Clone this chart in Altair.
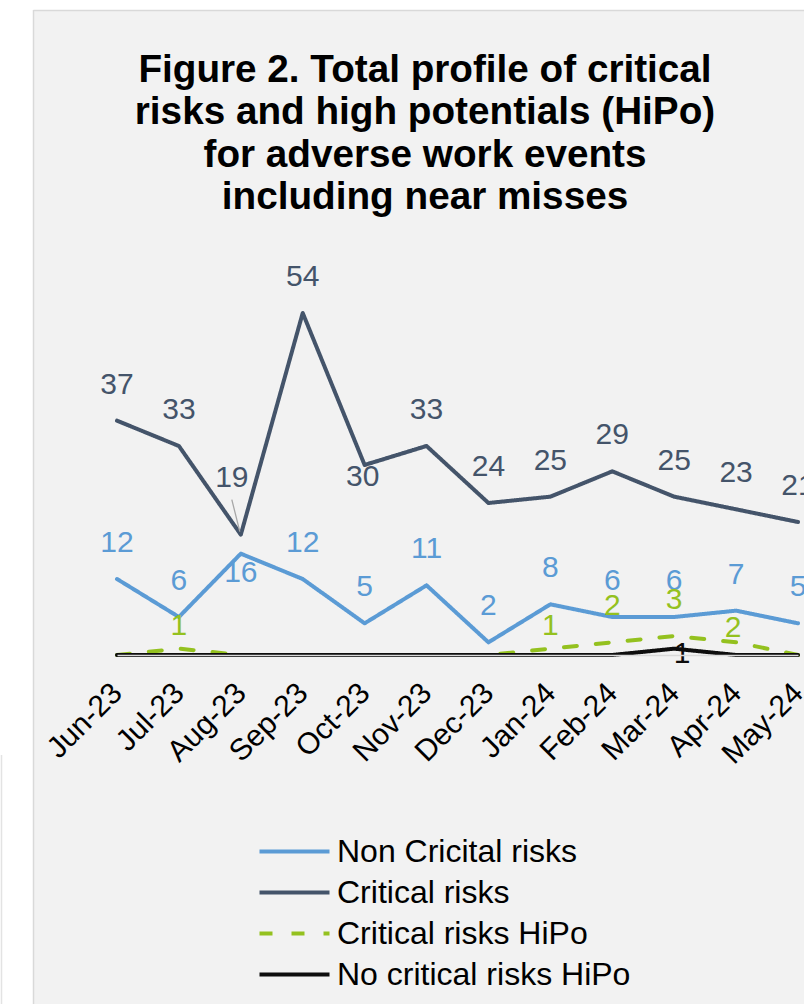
import altair as alt
import pandas as pd

# ---------------- data ----------------
months = ["Jun-23", "Jul-23", "Aug-23", "Sep-23", "Oct-23", "Nov-23",
          "Dec-23", "Jan-24", "Feb-24", "Mar-24", "Apr-24", "May-24"]
non_critical = [12, 6, 16, 12, 5, 11, 2, 8, 6, 6, 7, 5]
critical = [37, 33, 19, 54, 30, 33, 24, 25, 29, 25, 23, 21]
critical_hipo = [0, 1, 0, 0, 0, 0, 0, 1, 2, 3, 2, 0]
no_critical_hipo = [0, 0, 0, 0, 0, 0, 0, 0, 0, 1, 0, 0]

series_names = ["Non Cricital risks", "Critical risks",
                "Critical risks HiPo", "No critical risks HiPo"]
series_values = [non_critical, critical, critical_hipo, no_critical_hipo]

title_lines = ["Figure 2. Total profile of critical",
               "risks and high potentials (HiPo)",
               "for adverse work events",
               "including near misses"]

# ---------------- styles ----------------
colors = ["#5b9bd5", "#44546a", "#94c11f", "#0d0d0d"]
dashes = [[1, 0], [1, 0], [13, 19], [1, 0]]
caps = ["round", "round", "round", "round"]

DEFAULT_OFFSET = (0, -36)
label_offsets = {
    ("Critical risks", "Aug-23"): (-9, -57),
    ("Critical risks", "Oct-23"): (-2, 12),
    ("Non Cricital risks", "Aug-23"): (0, 19),
    ("Critical risks HiPo", "Jul-23"): (0, -23),
    ("Critical risks HiPo", "Jan-24"): (0, -23),
    ("Critical risks HiPo", "Apr-24"): (-3, -14),
    ("No critical risks HiPo", "Mar-24"): (8, 5),
}

rows = []
for name, vals in zip(series_names, series_values):
    for m, v in zip(months, vals):
        rows.append({"month": m, "series": name, "value": v})
df = pd.DataFrame(rows)

FONT = "Liberation Sans"

x_enc = alt.X(
    "month:N", sort=months,
    scale=alt.Scale(type="point", range=[31, 712], padding=0),
    axis=alt.Axis(title=None, labelAngle=-45, labelAlign="right",
                  labelBaseline="middle", labelFontSize=30, labelFont=FONT,
                  labelColor="#000000", ticks=False, grid=False,
                  domainColor="#d9d9d9", domainWidth=1.5, labelPadding=33,
                  labelOverlap=False, zindex=1),
)
y_enc = alt.Y("value:Q", scale=alt.Scale(domain=[0, 60]), axis=None)

legend = alt.Legend(title=None, orient="none", legendX=189, legendY=557,
                    direction="vertical", symbolType="M-2,0H2",
                    symbolSize=1225, symbolStrokeWidth=4, labelFont=FONT,
                    labelFontSize=32, labelColor="#000000", labelOffset=23,
                    rowPadding=5, padding=0, labelLimit=400)

color_enc = alt.Color("series:N", sort=series_names,
                      scale=alt.Scale(domain=series_names, range=colors),
                      legend=legend)
dash_enc = alt.StrokeDash("series:N", sort=series_names,
                          scale=alt.Scale(domain=series_names, range=dashes),
                          legend=legend)

one_row = alt.Data(values=[{"k": 1}])

# background panel decorations (white margin + border of the chart frame)
bg_left = alt.Chart(one_row).mark_rect(fill="white", strokeWidth=0).encode(
    x=alt.value(-86), x2=alt.value(-53), y=alt.value(-275), y2=alt.value(729))
bg_top = alt.Chart(one_row).mark_rect(fill="white", strokeWidth=0).encode(
    x=alt.value(-86), x2=alt.value(718), y=alt.value(-275), y2=alt.value(-265))
border_v = alt.Chart(one_row).mark_rule(color="#d9d9d9", strokeWidth=1.5).encode(
    x=alt.value(-52.5), y=alt.value(-265), y2=alt.value(729))
border_h = alt.Chart(one_row).mark_rule(color="#d9d9d9", strokeWidth=1.5).encode(
    x=alt.value(-52.5), x2=alt.value(718), y=alt.value(-264.5))
edge_v = alt.Chart(one_row).mark_rule(color="#e3e3e3", strokeWidth=1.5).encode(
    x=alt.value(-84.5), y=alt.value(480), y2=alt.value(729))

layers = [bg_left, bg_top, border_v, border_h, edge_v]

# lines (one layer per series so the black one is on top)
for name, cap in zip(series_names, caps):
    layers.append(
        alt.Chart(df).transform_filter(alt.datum.series == name)
        .mark_line(strokeWidth=4, strokeCap=cap, strokeJoin="round")
        .encode(x=x_enc, y=y_enc, color=color_enc, strokeDash=dash_enc)
    )

# leader line for the "19" label
layers.append(
    alt.Chart(df)
    .transform_filter((alt.datum.series == "Critical risks") & (alt.datum.month == "Aug-23"))
    .mark_rule(color="#a6a6a6", strokeWidth=1.3, xOffset=-1, yOffset=-3,
               x2Offset=-9, y2Offset=-35)
    .encode(x=x_enc, y=y_enc, x2="month:N", y2="value:Q")
)

# data labels
for name, col in zip(series_names, colors):
    groups = {}
    for m, v in zip(months, series_values[series_names.index(name)]):
        if v == 0:
            continue
        off = label_offsets.get((name, m), DEFAULT_OFFSET)
        groups.setdefault(off, []).append(m)
    for (dx, dy), ms in groups.items():
        layers.append(
            alt.Chart(df)
            .transform_filter(alt.datum.series == name)
            .transform_filter(alt.FieldOneOfPredicate(field="month", oneOf=ms))
            .mark_text(font=FONT, fontSize=30, color=col, dx=dx, dy=dy,
                       baseline="middle", align="center")
            .encode(x=x_enc, y=y_enc, text="value:Q")
        )

chart = alt.layer(*layers, data=df).properties(
    width=718, height=380,
    autosize="none",
    padding={"left": 86, "top": 275, "right": 0, "bottom": 349},
    title=alt.Title(text=title_lines, font=FONT, fontSize=38.7,
                    fontWeight="bold", color="#000000", lineHeight=42.5,
                    anchor="middle", dx=-20, offset=-217),
    background="#f2f2f2",
).configure_view(stroke=None)

chart.save("out.html", embed_options={"renderer": "svg", "actions": False})
